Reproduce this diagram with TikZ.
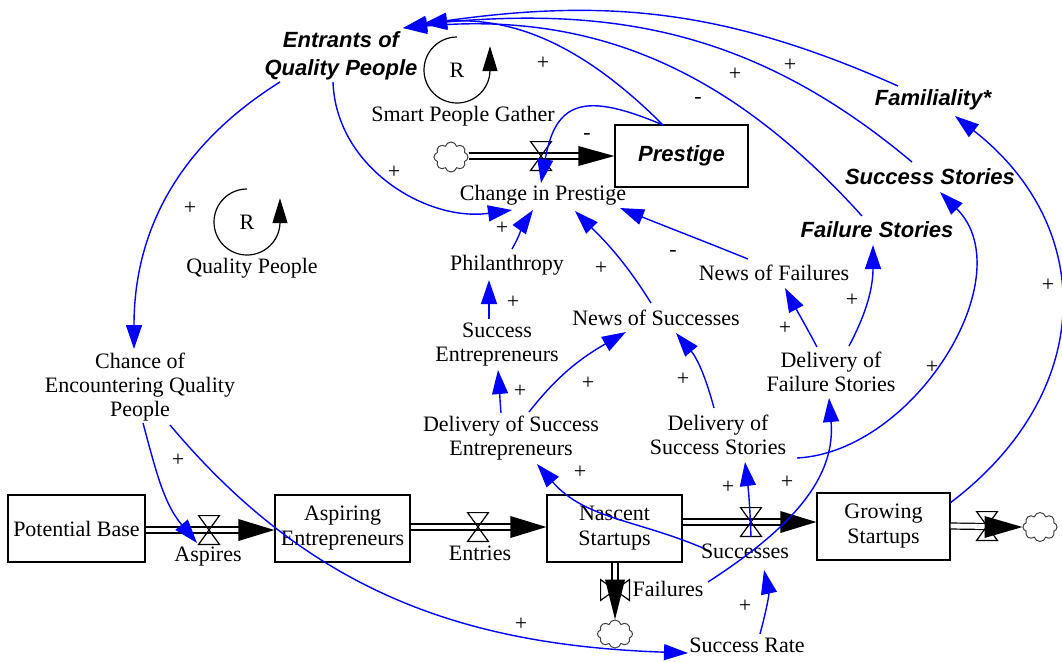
\documentclass[tikz,border=0pt]{standalone}
\usepackage{fontspec}
\setmainfont{Liberation Serif}
\setsansfont{Liberation Sans}
\usetikzlibrary{arrows.meta,shapes.symbols}
\begin{document}
\begin{tikzpicture}[x=0.5pt,y=0.5pt,
  lbl/.style={font=\fontsize{11}{12}\selectfont, align=center, inner sep=1pt},
  bvar/.style={font=\sffamily\bfseries\itshape\fontsize{11}{14}\selectfont, align=center, inner sep=1pt},
  stock/.style={draw, line width=0.6pt, align=center, inner sep=0pt, font=\fontsize{11}{12.5}\selectfont},
  link/.style={blue, line width=0.7pt, -{Triangle[length=12pt,width=8pt]}},
  pol/.style={font=\fontsize{11}{12}\selectfont, inner sep=0pt},
  pipe/.style={double, double distance=2.4pt, line width=0.6pt},
  valve/.style={line width=0.6pt},
  valvept/.style={inner sep=0pt, minimum width=10pt, minimum height=14pt},
  sky/.style={cloud, cloud puffs=8, cloud ignores aspect, draw=black!75, line width=0.5pt, inner sep=0pt},
  loopar/.style={line width=0.6pt, -{Triangle[length=12.5pt,width=7.5pt]}}
]
\useasboundingbox (0,0) rectangle (1062,-661);

% stocks
\node[stock, minimum width=68.5pt, minimum height=33.5pt] (pb) at (76.5,-528.5) {Potential Base};
\node[stock, minimum width=67.5pt, minimum height=33.5pt] (ae) at (342.5,-528.5) {Aspiring\\Entrepreneurs};
\node[stock, minimum width=67.5pt, minimum height=33.5pt] (ns) at (614.5,-528.5) {Nascent\\Startups};
\node[stock, minimum width=66.5pt, minimum height=33.5pt] (gs) at (883.5,-526.5) {Growing\\Startups};
\node[stock, minimum width=66.5pt, minimum height=31pt, font=\sffamily\bfseries\itshape\fontsize{11}{13}\selectfont] (pr) at (681.5,-156) {Prestige};

% clouds
\node[sky, minimum width=17pt, minimum height=15pt] (ccip) at (451,-157) {};
\node[sky, minimum width=17.5pt, minimum height=14pt] (cfail) at (615,-634) {};
\node[sky, minimum width=17pt, minimum height=14.5pt] (cgrow) at (1040,-527) {};

% valves
\node[valvept] (vasp) at (209,-530) {};
\node[valvept] (vent) at (478,-527) {};
\node[valvept] (vsuc) at (751,-522) {};
\node[valvept] (vgro) at (987,-526) {};
\node[valvept, minimum width=14pt, minimum height=10pt] (vfai) at (615,-590) {};
\node[valvept] (vcip) at (541,-156) {};

% pipes
\draw[pipe, shorten >=14pt] (pb.east |- vasp) -- (ae.west |- vasp);
\fill (ae.west |- vasp) -- ++(-18pt,5.5pt) -- ++(0,-11pt) -- cycle;
\draw[pipe, shorten >=14pt] (ae.east |- vent) -- (ns.west |- vent);
\fill (ns.west |- vent) -- ++(-18pt,5.5pt) -- ++(0,-11pt) -- cycle;
\draw[pipe, shorten >=14pt] (ns.east |- vsuc) -- (gs.west |- vsuc);
\fill (gs.west |- vsuc) -- ++(-18pt,5.5pt) -- ++(0,-11pt) -- cycle;
\draw[pipe, shorten >=14pt] (gs.east |- vgro) -- (cgrow.west);
\fill (cgrow.west) -- ++(-19pt,5.5pt) -- ++(0,-11pt) -- cycle;
\draw[pipe, shorten >=14pt] (ccip.east |- vcip) -- (pr.west |- vcip);
\fill (pr.west |- vcip) -- ++(-18pt,5pt) -- ++(0,-10pt) -- cycle;
\draw[pipe, shorten >=16pt] (ns.south -| vfai) -- (cfail.north);
\fill (cfail.north) -- ++(-5pt,20pt) -- ++(10pt,0) -- cycle;

% valve symbols
\foreach \v in {vasp,vent,vsuc,vgro,vcip}
  \draw[valve] (\v.north west) -- (\v.north east) -- (\v.south west) -- (\v.south east) -- cycle;
\draw[valve] (vfai.north west) -- (vfai.south west) -- (vfai.north east) -- (vfai.south east) -- cycle;

% labels
\node[lbl] (aspl) at (208,-557) {Aspires};
\node[lbl] (entl) at (480,-553) {Entries};
\node[lbl] (succ) at (745,-551) {Successes};
\node[lbl] (fail) at (668,-589) {Failures};
\node[lbl] (cip) at (543,-195) {Change in Prestige};
\node[lbl] (sr) at (747,-645) {Success Rate};
\node[lbl] (chance) at (140,-387) {Chance of\\Encountering Quality\\People};
\node[lbl] (phil) at (507,-265) {Philanthropy};
\node[lbl] (nos) at (656,-318) {News of Successes};
\node[lbl] (nof) at (774,-273) {News of Failures};
\node[lbl] (se) at (497,-345) {Success\\Entrepreneurs};
\node[lbl] (dse) at (511,-438) {Delivery of Success\\Entrepreneurs};
\node[lbl] (dss) at (718,-435) {Delivery of\\Success Stories};
\node[lbl] (dfs) at (831,-372) {Delivery of\\Failure Stories};
\node[bvar] (ent) at (341,-56) {Entrants of\\Quality People};
\node[bvar] (fam) at (933,-100) {Familiality*};
\node[bvar] (sst) at (930,-177) {Success Stories};
\node[bvar] (fst) at (877,-230) {Failure Stories};

% loops
\node[lbl] (lp1) at (457,-70) {R};
\node[lbl] (lp1t) at (463,-116) {Smart People Gather};
\draw[loopar] (lp1.center) ++(90:16.5pt) arc[start angle=90, end angle=358, radius=16.5pt] -- ++(0,12.5pt);
\node[lbl] (lp2) at (247,-222) {R};
\node[lbl] (lp2t) at (252,-268) {Quality People};
\draw[loopar] (lp2.center) ++(90:16.5pt) arc[start angle=90, end angle=358, radius=16.5pt] -- ++(0,12.5pt);

% links
\draw[link] ([shift={(3,-36)}]chance.center) to[out=-75,in=130] ([shift={(-12,-13)}]vasp.center);
\draw[link] ([shift={(30,-38)}]chance.center) to[out=-50,in=178] ([shift={(-59,-8)}]sr.center);
\draw[link] ([shift={(-61,-26)}]ent.center) to[out=-148,in=90] ([shift={(-6,38)}]chance.center);
\draw[link] ([shift={(-8,-26)}]ent.center) to[out=-88,in=188] ([shift={(-31,-15)}]cip.center);
\draw[link] ([shift={(-18.5,31)}]pr.center) to[out=135,in=10] ([shift={(62,28)}]ent.center);
\draw[link] ([shift={(-15,14)}]fst.center) to[out=132,in=5] ([shift={(62,28)}]ent.center);
\draw[link] ([shift={(-18,15)}]sst.center) to[out=140,in=5] ([shift={(82,32)}]ent.center);
\draw[link] ([shift={(-35,14)}]fam.center) to[out=156,in=8] ([shift={(82,32)}]ent.center);
\draw[link] ([shift={(-18.5,31)}]pr.center) to[out=157,in=80,looseness=1.6] ([shift={(-2,12)}]cip.center);
\draw[link] ([shift={(5,16)}]phil.center) to[out=60,in=-125] ([shift={(-10,-15)}]cip.center);
\draw[link] ([shift={(-5,15)}]nos.center) to[out=122,in=-45] ([shift={(32,-16)}]cip.center);
\draw[link] ([shift={(-26,14)}]nof.center) to[out=158,in=-22] ([shift={(77,-13)}]cip.center);
\draw[link] ([shift={(-8,26)}]se.center) to[out=90,in=-90] ([shift={(-18,-15)}]phil.center);
\draw[link] ([shift={(-10,25)}]dse.center) to[out=95,in=-85] ([shift={(1,-25)}]se.center);
\draw[link] ([shift={(18,26)}]dse.center) to[out=52,in=-150] ([shift={(-30,-14)}]nos.center);
\draw[link] ([shift={(-4,27)}]dss.center) to[out=105,in=-50] ([shift={(20,-15)}]nos.center);
\draw[link] ([shift={(-14,25)}]dfs.center) to[out=118,in=-62] ([shift={(11,-15)}]nof.center);
\draw[link] ([shift={(18,26)}]dfs.center) to[out=62,in=-90] ([shift={(-4,-15)}]fst.center);
\draw[link] ([shift={(79,-23)}]dss.center) to[out=3,in=-45] ([shift={(10,-15)}]sst.center);
\draw[link] ([shift={(66.5,23.5)}]gs.center) to[out=37,in=-38,looseness=1.2] ([shift={(22,-16)}]fam.center);
\draw[link] ([shift={(0,-15)}]vsuc.center) to[out=92,in=-83] ([shift={(27,-27)}]dss.center);
\draw[link] ([shift={(-42,3)}]succ.center) to[out=157,in=-49] ([shift={(26,-26)}]dse.center);
\draw[link] ([shift={(40,7)}]fail.center) to[out=33,in=-85] ([shift={(-2,-26)}]dfs.center);
\draw[link] ([shift={(13,11)}]sr.center) to[out=75,in=-78] ([shift={(19,-19)}]succ.center);

% polarities
\node[pol] (p1) at (178,-460) {+};
\node[pol] (p2) at (521,-624) {+};
\node[pol] (p3) at (190,-208) {+};
\node[pol] (p4) at (394,-172) {+};
\node[pol] (p5) at (543,-63) {+};
\node[pol] (p6) at (698,-100) {-};
\node[pol] (p7) at (735,-74) {+};
\node[pol] (p8) at (790,-65) {+};
\node[pol] (p9) at (587,-136) {-};
\node[pol] (p10) at (502,-228) {+};
\node[pol] (p11) at (601,-268) {+};
\node[pol] (p12) at (673,-253) {-};
\node[pol] (p13) at (513,-302) {+};
\node[pol] (p14) at (520,-391) {+};
\node[pol] (p15) at (588,-383) {+};
\node[pol] (p16) at (683,-379) {+};
\node[pol] (p17) at (785,-328) {+};
\node[pol] (p18) at (852,-300) {+};
\node[pol] (p19) at (932,-367) {+};
\node[pol] (p20) at (1048,-285) {+};
\node[pol] (p21) at (728,-487) {+};
\node[pol] (p22) at (580,-472) {+};
\node[pol] (p23) at (787,-482) {+};
\node[pol] (p24) at (745,-606) {+};
\end{tikzpicture}
\end{document}
